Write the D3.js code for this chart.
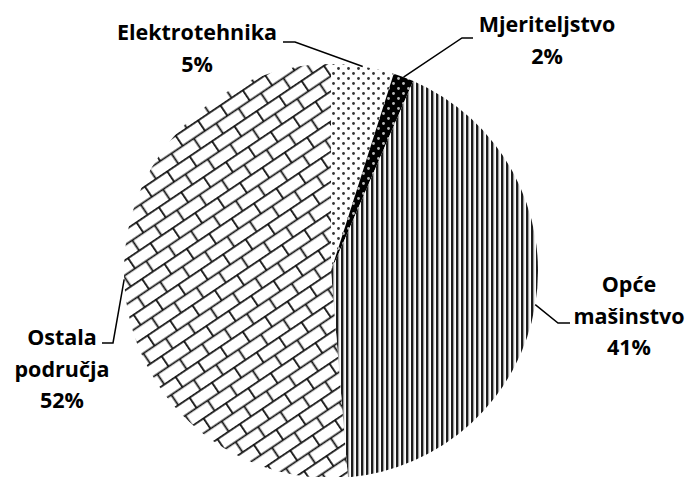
<!DOCTYPE html>
<html>
<head>
<meta charset="utf-8">
<script src="https://d3js.org/d3.v7.min.js"></script>
<style>
  body { margin: 0; background: #fff; }
  svg { display: block; }
  .lbl { font-family: "Open Sans", sans-serif; font-weight: 700; font-size: 21.5px; fill: #000; }
</style>
</head>
<body>
<svg id="chart" width="690" height="477"></svg>
<script>
// data, clockwise from 12 o'clock
var categories = ["Elektrotehnika", "Mjeriteljstvo", "Opće mašinstvo", "Ostala područja"];
var values = [4.9, 1.6, 42.2, 51.3];
var percentLabels = ["5%", "2%", "41%", "52%"];

// label layout (text lines, anchor of the text block, leader elbow)
var labelLines = [["Elektrotehnika"], ["Mjeriteljstvo"], ["Opće", "mašinstvo"], ["Ostala", "područja"]];
var labelPos = [
  {x: 197, y: 40, elbow: [[283, 42], [295, 42]]},
  {x: 547, y: 32, elbow: [[473, 38], [462, 38]]},
  {x: 629, y: 292, elbow: [[570, 323], [558, 323]]},
  {x: 62, y: 345, elbow: [[102, 343], [113, 343]]}
];

var width = 690, height = 477;
var cx = 331, cy = 271, radius = 207;
var lineGap = 31.5;

var svg = d3.select("#chart");
var defs = svg.append("defs");

// dotted pattern (light)
var pDots = defs.append("pattern").attr("id", "dots")
  .attr("patternUnits", "userSpaceOnUse").attr("width", 10).attr("height", 10);
pDots.append("rect").attr("width", 10).attr("height", 10).attr("fill", "#fff");
pDots.append("circle").attr("cx", 2.5).attr("cy", 2.5).attr("r", 1.4).attr("fill", "#333");
pDots.append("circle").attr("cx", 7.5).attr("cy", 7.5).attr("r", 1.4).attr("fill", "#333");

// dotted pattern (dark)
var pDark = defs.append("pattern").attr("id", "darkdots")
  .attr("patternUnits", "userSpaceOnUse").attr("width", 10).attr("height", 10);
pDark.append("rect").attr("width", 10).attr("height", 10).attr("fill", "#000");
pDark.append("circle").attr("cx", 2.5).attr("cy", 2.5).attr("r", 1.4).attr("fill", "#bbb");
pDark.append("circle").attr("cx", 7.5).attr("cy", 7.5).attr("r", 1.4).attr("fill", "#bbb");

// vertical stripes
var pStripe = defs.append("pattern").attr("id", "stripes")
  .attr("patternUnits", "userSpaceOnUse").attr("width", 5).attr("height", 10);
pStripe.append("rect").attr("width", 5).attr("height", 10).attr("fill", "#fff");
pStripe.append("rect").attr("x", 0).attr("width", 2.4).attr("height", 10).attr("fill", "#1c1c1c");
pStripe.append("rect").attr("x", 2.4).attr("width", 0.8).attr("height", 10).attr("fill", "#999");

// diagonal brick
var bw = 27, bh = 12.5;
var pBrick = defs.append("pattern").attr("id", "brick")
  .attr("patternUnits", "userSpaceOnUse").attr("width", bw).attr("height", bh * 2)
  .attr("patternTransform", "rotate(-34)");
pBrick.append("rect").attr("width", bw).attr("height", bh * 2).attr("fill", "#fff");
pBrick.append("path")
  .attr("d", "M0,0.9H" + bw + "M0," + (bh + 0.9) + "H" + bw +
             "M0.9,0V" + bh + "M" + (bw / 2 + 0.9) + "," + bh + "V" + (bh * 2))
  .attr("stroke", "#111").attr("stroke-width", 1.8).attr("fill", "none");

var fills = ["url(#dots)", "url(#darkdots)", "url(#stripes)", "url(#brick)"];

var pie = d3.pie().sort(null).value(function(d) { return d; });
var arcs = pie(values);
var arc = d3.arc().innerRadius(0).outerRadius(radius);

var g = svg.append("g").attr("transform", "translate(" + cx + "," + cy + ")");
g.selectAll("path.slice").data(arcs).enter().append("path")
  .attr("class", "slice")
  .attr("d", arc)
  .attr("fill", function(d, i) { return fills[i]; });

// leader lines: from label elbow to the arc edge at slice mid-angle
arcs.forEach(function(d, i) {
  var a = (d.startAngle + d.endAngle) / 2;
  var edge = [cx + radius * Math.sin(a), cy - radius * Math.cos(a)];
  var pts = labelPos[i].elbow.concat([edge]);
  svg.append("path")
    .attr("d", d3.line()(pts))
    .attr("fill", "none").attr("stroke", "#000").attr("stroke-width", 1.5);
});

// labels
categories.forEach(function(c, i) {
  var lines = labelLines[i].concat([percentLabels[i]]);
  var t = svg.append("text").attr("class", "lbl").attr("text-anchor", "middle");
  lines.forEach(function(s, k) {
    t.append("tspan").attr("x", labelPos[i].x).attr("y", labelPos[i].y + k * lineGap).text(s);
  });
});
</script>
</body>
</html>
